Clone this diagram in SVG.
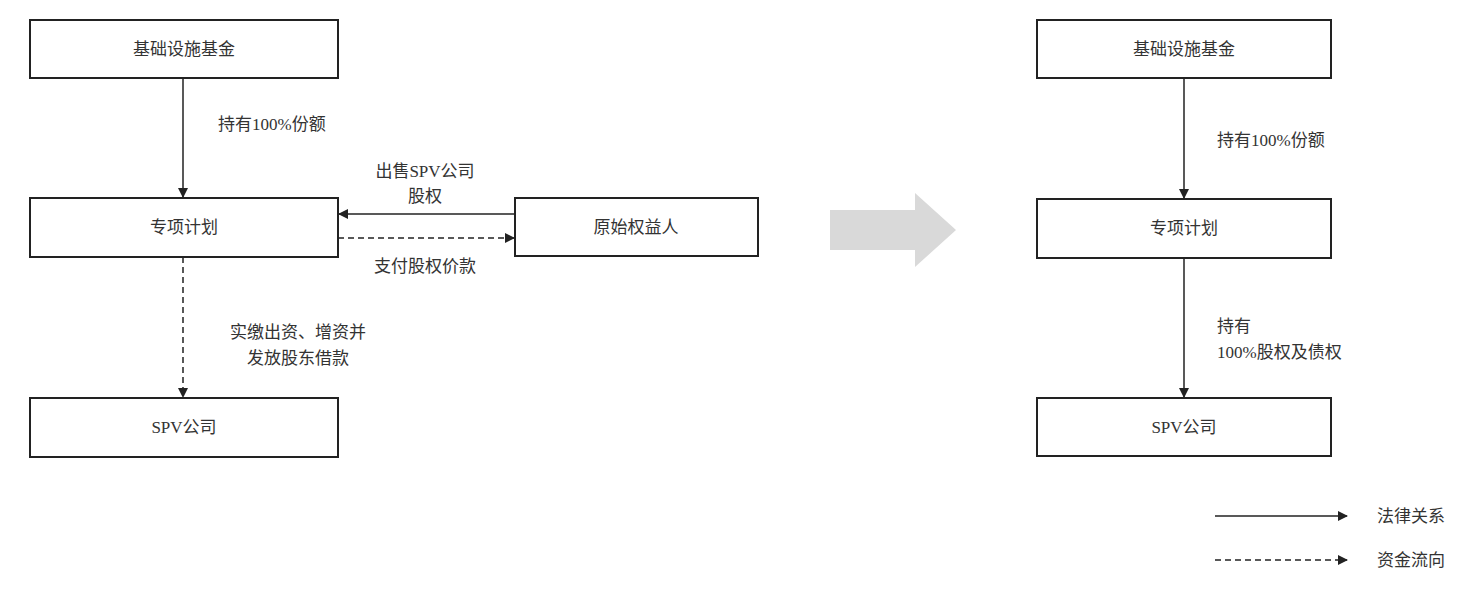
<svg xmlns="http://www.w3.org/2000/svg" width="1476" height="596" viewBox="0 0 1476 596">
<style>
.b{fill:#fff;stroke:#222;stroke-width:2}
.t{font-family:"Liberation Serif","Noto Sans CJK SC",serif;font-size:17px;fill:#333;text-anchor:middle}
.l{font-family:"Liberation Serif","Noto Sans CJK SC",serif;font-size:17px;fill:#333}
.s{stroke:#222;stroke-width:1.5;fill:none}
.d{stroke:#222;stroke-width:1.5;fill:none;stroke-dasharray:6,4}
</style>
<defs><marker id="a" markerWidth="10" markerHeight="10" refX="9" refY="5" orient="auto" markerUnits="userSpaceOnUse"><path d="M0,0L10,5L0,10z" fill="#222"/></marker></defs>
<g id="n1"><rect class="b" x="30" y="20" width="308" height="58"/><text class="t" x="184" y="55">基础设施基金</text></g>
<g id="n2"><rect class="b" x="30" y="198" width="308" height="59"/><text class="t" x="184" y="233">专项计划</text></g>
<g id="n3"><rect class="b" x="30" y="398" width="308" height="59"/><text class="t" x="184" y="433">SPV公司</text></g>
<g id="n4"><rect class="b" x="515" y="198" width="243" height="58"/><text class="t" x="636" y="233">原始权益人</text></g>
<g id="r1"><rect class="b" x="1037" y="20" width="294" height="58"/><text class="t" x="1184" y="55">基础设施基金</text></g>
<g id="r2"><rect class="b" x="1037" y="199" width="294" height="59"/><text class="t" x="1184" y="234">专项计划</text></g>
<g id="r3"><rect class="b" x="1037" y="398" width="294" height="58"/><text class="t" x="1184" y="433">SPV公司</text></g>
<g id="bigarrow"><polygon points="830,210 915,210 915,193 956,230 915,267 915,250 830,250" fill="#d9d9d9"/></g>
<g id="connectors">
<line class="s" x1="183" y1="78" x2="183" y2="197" marker-end="url(#a)"/>
<line class="s" x1="515" y1="214" x2="339" y2="214" marker-end="url(#a)"/>
<line class="d" x1="338" y1="238" x2="514" y2="238" marker-end="url(#a)"/>
<line class="d" x1="183" y1="257" x2="183" y2="397" marker-end="url(#a)"/>
<line class="s" x1="1184" y1="78" x2="1184" y2="198" marker-end="url(#a)"/>
<line class="s" x1="1184" y1="258" x2="1184" y2="397" marker-end="url(#a)"/>
<line class="s" x1="1215" y1="516" x2="1347" y2="516" marker-end="url(#a)"/>
<line class="d" x1="1215" y1="560" x2="1347" y2="560" marker-end="url(#a)"/>
</g>
<g id="labels">
<text class="l" x="218" y="130">持有100%份额</text>
<text class="t" x="425" y="177">出售SPV公司</text>
<text class="t" x="425" y="202">股权</text>
<text class="t" x="425" y="272">支付股权价款</text>
<text class="t" x="298" y="338">实缴出资、增资并</text>
<text class="t" x="298" y="364">发放股东借款</text>
<text class="l" x="1217" y="146">持有100%份额</text>
<text class="l" x="1217" y="332">持有</text>
<text class="l" x="1217" y="358">100%股权及债权</text>
<text class="l" x="1377" y="522">法律关系</text>
<text class="l" x="1377" y="566">资金流向</text>
</g>
</svg>
